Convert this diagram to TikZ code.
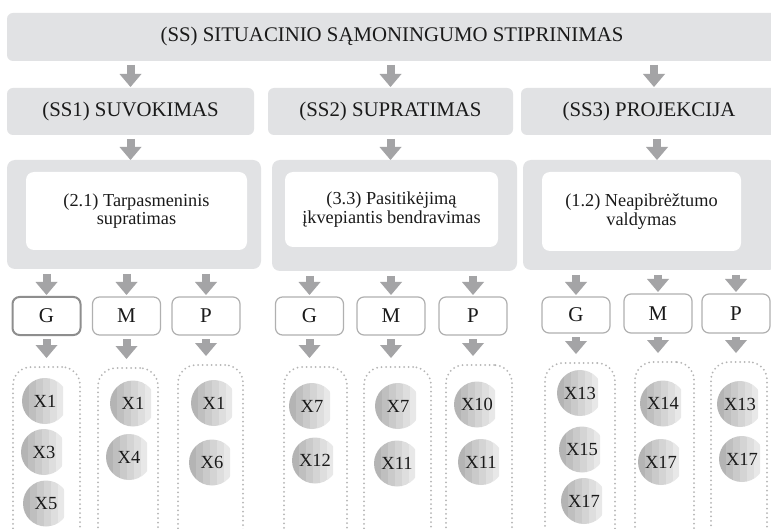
\documentclass[tikz,border=0pt]{standalone}
\usepackage{fontspec}
\setmainfont{Liberation Serif}
\usetikzlibrary{arrows.meta}

\definecolor{barfill}{HTML}{E1E2E4}
\definecolor{arrowgray}{HTML}{A4A4A6}
\definecolor{boxline}{HTML}{B0B0B0}
\definecolor{boxlinedark}{HTML}{8E8E8E}
\definecolor{dotgray}{HTML}{B4B4B4}
\definecolor{textgray}{HTML}{1A1A1A}
\definecolor{bandA}{HTML}{B4B4B4}
\definecolor{bandB}{HTML}{BFBFBF}
\definecolor{bandC}{HTML}{CACACA}
\definecolor{bandD}{HTML}{D4D4D4}
\definecolor{bandE}{HTML}{DEDEDE}
\definecolor{bandF}{HTML}{E8E8E8}

\tikzset{
  panel/.style={fill=barfill, draw=none, rounded corners=6pt, inner sep=0pt,
    outer sep=0pt, text=textgray, font=\fontsize{20.8}{22}\selectfont},
  bigpanel/.style={panel, rounded corners=8pt},
  whitebox/.style={fill=white, rounded corners=8pt, inner sep=0pt, outer sep=0pt,
    align=center, text=textgray, font=\fontsize{18.3}{18.5}\selectfont},
  letterbox/.style={draw=boxline, line width=1.2pt, fill=white, rounded corners=7pt,
    minimum width=68pt, minimum height=38pt, inner sep=0pt, outer sep=0pt,
    text=textgray, font=\fontsize{21}{22}\selectfont},
  dotbox/.style={draw=dotgray, line width=2pt, dash pattern=on 0pt off 4.5pt,
    line cap=round, rounded corners=18pt, minimum height=200pt, anchor=north,
    inner sep=0pt, outer sep=0pt},
  flow/.style={draw=arrowgray, line width=8pt,
    -{Triangle[width=22pt,length=13pt,line width=0pt]}},
  ball/.style={inner sep=0pt, text=textgray, font=\fontsize{18.5}{18.5}\selectfont},
}

% shaded ball with a label: name, x, y, text
\newcommand\xball[4]{%
  \begin{scope}
    \clip ({#2-23},{#3-23}) rectangle ({#2+18},{#3+23});
    \clip (#2,#3) circle (23);
    \foreach \k/\c in {0/bandA,1/bandB,2/bandC,3/bandD,4/bandE,5/bandF}
      {\fill[\c] ({#2-23+7*\k},{#3-24}) rectangle ({#2-23+7*\k+7.3},{#3+24});}
  \end{scope}
  \node[ball] (#1) at (#2,#3) {#4};%
}

\begin{document}
\begin{tikzpicture}[x=1pt, y=-1pt]
  \clip (0,0) rectangle (771,529);
  \fill[white] (0,0) rectangle (771,529);

  % top level
  \node[panel, minimum width=770pt, minimum height=48pt] (top) at (392,37)
    {(SS) SITUACINIO SĄMONINGUMO STIPRINIMAS};

  % second level
  \node[panel, minimum width=247pt, minimum height=47pt] (ss1) at (130.5,111.5) {(SS1) SUVOKIMAS};
  \node[panel, minimum width=245pt, minimum height=47pt] (ss2) at (390.5,111.5) {(SS2) SUPRATIMAS};
  \node[panel, minimum width=256pt, minimum height=47pt] (ss3) at (649,111.5) {(SS3) PROJEKCIJA};

  % third level: grey frames with white boxes
  \node[bigpanel, minimum width=254pt, minimum height=109pt] (big1) at (134,214.5) {};
  \node[bigpanel, minimum width=245pt, minimum height=111pt] (big2) at (394.5,215.5) {};
  \node[bigpanel, minimum width=254pt, minimum height=110pt] (big3) at (650,215) {};

  \node[whitebox, minimum width=221pt, minimum height=78pt] (in1) at (136.5,211)
    {(2.1) Tarpasmeninis\\supratimas};
  \node[whitebox, minimum width=213pt, minimum height=75pt] (in2) at (391.5,209.5)
    {(3.3) Pasitikėjimą\\įkvepiantis bendravimas};
  \node[whitebox, minimum width=199pt, minimum height=79pt] (in3) at (641.5,211.5)
    {(1.2) Neapibrėžtumo\\valdymas};

  % G / M / P boxes
  \node[letterbox, draw=boxlinedark, line width=2pt] (l1) at (46.5,316) {G};
  \node[letterbox] (l2) at (126.5,316) {M};
  \node[letterbox] (l3) at (206,316) {P};
  \node[letterbox] (l4) at (309.5,316) {G};
  \node[letterbox] (l5) at (391,316) {M};
  \node[letterbox] (l6) at (473,316) {P};
  \node[letterbox, minimum height=36pt] (l7) at (576,315) {G};
  \node[letterbox, minimum height=39pt] (l8) at (658,313.5) {M};
  \node[letterbox, minimum height=39pt] (l9) at (736,313.5) {P};

  % dotted groups
  \node[dotbox, minimum width=67pt] (c1) at (46.5,367) {};
  \node[dotbox, minimum width=60pt] (c2) at (128,368) {};
  \node[dotbox, minimum width=65pt] (c3) at (210.5,365) {};
  \node[dotbox, minimum width=63pt] (c4) at (315.5,367) {};
  \node[dotbox, minimum width=67pt] (c5) at (397.5,367) {};
  \node[dotbox, minimum width=66pt] (c6) at (479,365) {};
  \node[dotbox, minimum width=70pt] (c7) at (580,363) {};
  \node[dotbox, minimum width=59pt] (c8) at (664.5,362) {};
  \node[dotbox, minimum width=56pt] (c9) at (739,362) {};

  % balls
  \xball{a1}{45}{401}{X1}
  \xball{a2}{44}{452}{X3}
  \xball{a3}{46}{503.5}{X5}
  \xball{b1}{133}{403.5}{X1}
  \xball{b2}{129}{457}{X4}
  \xball{d1}{214}{403}{X1}
  \xball{d2}{212}{462.5}{X6}
  \xball{e1}{312}{406}{X7}
  \xball{e2}{315}{460.5}{X12}
  \xball{f1}{398}{406}{X7}
  \xball{f2}{397}{463.5}{X11}
  \xball{g1}{477}{404.5}{X10}
  \xball{g2}{481}{462}{X11}
  \xball{h1}{580}{393}{X13}
  \xball{h2}{582}{449.5}{X15}
  \xball{h3}{584}{501}{X17}
  \xball{i1}{663}{403.5}{X14}
  \xball{i2}{661}{462}{X17}
  \xball{j1}{740}{404}{X13}
  \xball{j2}{742}{459}{X17}

  % arrows: top -> second level
  \draw[flow, shorten <=4pt, shorten >=1pt] (top.south -| ss1) -- (ss1.north);
  \draw[flow, shorten <=4pt, shorten >=1pt] (top.south -| ss2) -- (ss2.north);
  \draw[flow, shorten <=4pt, shorten >=1pt] ([xshift=5pt]top.south -| ss3) -- ([xshift=5pt]ss3.north);

  % second level -> frames
  \draw[flow, shorten <=4pt] (ss1.south) -- (ss1.south |- big1.north);
  \draw[flow, shorten <=4pt] (ss2.south) -- (ss2.south |- big2.north);
  \draw[flow, shorten <=4pt] ([xshift=8pt]ss3.south) -- ([xshift=8pt]ss3.south |- big3.north);

  % frames -> G / M / P
  \foreach \b/\l in {big1/l1, big1/l2, big1/l3, big2/l4, big2/l5, big2/l6, big3/l7, big3/l8, big3/l9}
    \draw[flow, shorten <=5pt, shorten >=2pt] (\b.south -| \l) -- (\l.north);

  % G / M / P -> dotted groups
  \foreach \l/\c in {l1/c1, l2/c2, l3/c3, l4/c4, l5/c5, l6/c6, l7/c7, l8/c8, l9/c9}
    \draw[flow, shorten <=4pt, shorten >=9pt] (\l.south) -- (\l.south |- \c.north);
\end{tikzpicture}
\end{document}
